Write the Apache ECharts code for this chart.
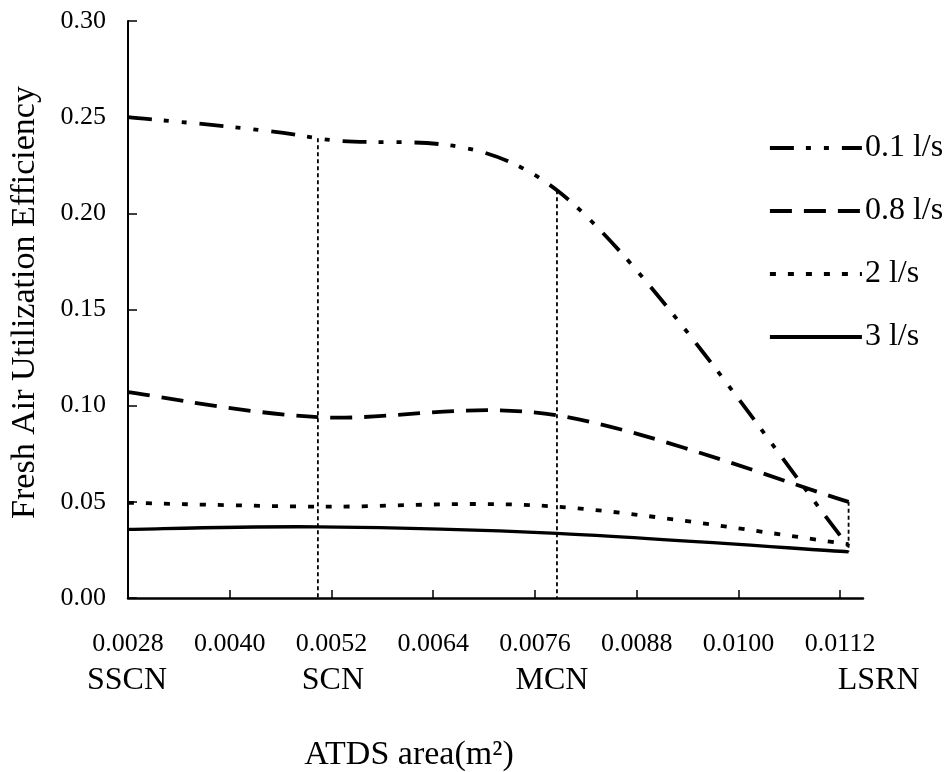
<!DOCTYPE html>
<html><head><meta charset="utf-8">
<script src="https://cdn.jsdelivr.net/npm/echarts@6/dist/echarts.min.js"></script>
<style>html,body{margin:0;padding:0;background:#fff}#c{width:951px;height:772px}</style>
</head><body><div id="c"></div>
<script>
// ---- data ----
const categories = ['SSCN', 'SCN', 'MCN', 'LSRN'];
const areas = [0.0028, 0.00504, 0.00786, 0.0113];
const seriesNames = ['0.1 l/s', '0.8 l/s', '2 l/s', '3 l/s'];
const eff01 = [0.250, 0.239, 0.212, 0.027];
const eff08 = [0.107, 0.094, 0.095, 0.050];
const eff2 = [0.0495, 0.0475, 0.0475, 0.028];
const eff3 = [0.0357, 0.037, 0.0336, 0.024];
const xTickLabels = [0.0028, 0.0040, 0.0052, 0.0064, 0.0076, 0.0088, 0.0100, 0.0112];
const yTickLabels = [0.00, 0.05, 0.10, 0.15, 0.20, 0.25, 0.30];
const dropIdx = [1, 2, 3];
const dropBottom = [0, 0, 0.024];

// ---- styling ----
const FONT = '"Liberation Serif", "Times New Roman", serif';
const allSeries = [eff01, eff08, eff2, eff3];
const dashes = [[24, 12, 5, 13, 5, 13], [22, 12], [6, 12], 'solid'];
const widths = [3.8, 3.8, 3.8, 3.4];
const catLabelDx = [-1, 15, -5, 30];
const K = 1 / 6; // spreadsheet-style smoothing tension

// smooth path (spreadsheet style Bezier) through pixel points
function smoothPath(pts) {
  const n = pts.length;
  let d = 'M' + pts[0][0] + ' ' + pts[0][1];
  for (let i = 0; i < n - 1; i++) {
    const p0 = pts[Math.max(i - 1, 0)], p1 = pts[i], p2 = pts[i + 1], p3 = pts[Math.min(i + 2, n - 1)];
    const c1x = p1[0] + (p2[0] - p0[0]) * K, c1y = p1[1] + (p2[1] - p0[1]) * K;
    const c2x = p2[0] - (p3[0] - p1[0]) * K, c2y = p2[1] - (p3[1] - p1[1]) * K;
    d += ' C' + c1x + ' ' + c1y + ' ' + c2x + ' ' + c2y + ' ' + p2[0] + ' ' + p2[1];
  }
  return d;
}

const chart = echarts.init(document.getElementById('c'), null, {renderer: 'canvas'});

// legend carriers (line series, no data drawn)
const legendSeries = seriesNames.map((name, s) => ({
  name: name,
  type: 'line',
  symbol: 'none',
  data: [],
  lineStyle: {color: '#000', width: widths[s], type: dashes[s]},
  itemStyle: {color: '#000'}
}));

// the curves, drawn through the axes with api.coord
const curveSeries = seriesNames.map((name, s) => ({
  name: name + ' curve',
  type: 'custom',
  coordinateSystem: 'cartesian2d',
  encode: {x: 0, y: 1},
  clip: false,
  silent: true,
  z: 3,
  data: areas.map((x, i) => [x, allSeries[s][i]]),
  renderItem: function (params, api) {
    if (params.dataIndex !== 0) return null;
    const pts = areas.map((x, i) => api.coord([x, allSeries[s][i]]));
    return {
      type: 'path',
      shape: {pathData: smoothPath(pts)},
      style: {
        fill: 'none',
        stroke: '#000',
        lineWidth: widths[s],
        lineDash: dashes[s] === 'solid' ? null : dashes[s],
        lineCap: 'butt',
        lineJoin: 'round'
      }
    };
  }
}));

const dropSeries = dropIdx.map((idx, k) => ({
  type: 'line',
  symbol: 'none',
  silent: true,
  z: 2,
  data: [[areas[idx], Math.max(...allSeries.map(a => a[idx]))], [areas[idx], dropBottom[k]]],
  lineStyle: {color: '#000', width: 1.8, type: [4, 3]}
}));

chart.setOption({
  animation: false,
  backgroundColor: '#fff',
  textStyle: {fontFamily: FONT, color: '#000'},
  grid: {left: 128, right: 88, top: 21, bottom: 174, containLabel: false, outerBoundsMode: 'none'},
  legend: {
    data: seriesNames,
    orient: 'vertical',
    left: 768,
    top: 132,
    padding: 0,
    itemWidth: 92,
    itemHeight: 14,
    itemGap: 31,
    itemStyle: {opacity: 0},
    lineStyle: {width: 3.8, opacity: 1},
    textStyle: {fontFamily: FONT, fontSize: 32, color: '#000', lineHeight: 32, padding: [0, 0, 0, -2]}
  },
  xAxis: {
    type: 'value',
    min: 0.0028,
    max: 0.01147,
    name: 'ATDS area(m²)',
    nameLocation: 'middle',
    nameGap: 140,
    nameTextStyle: {fontFamily: FONT, fontSize: 34, color: '#000', padding: [0, 173, 0, 0]},
    axisLine: {show: true, onZero: false, lineStyle: {color: '#000', width: 2.5}},
    axisTick: {show: true, inside: true, length: 8, lineStyle: {color: '#000', width: 1.5},
      customValues: xTickLabels.slice(1)},
    axisLabel: {show: true, margin: 33, fontFamily: FONT, fontSize: 26, color: '#000',
      customValues: xTickLabels, formatter: v => v.toFixed(4)},
    splitLine: {show: false}
  },
  yAxis: {
    type: 'value',
    min: 0,
    max: 0.3,
    interval: 0.05,
    name: 'Fresh Air Utilization Efficiency',
    nameLocation: 'middle',
    nameGap: 86,
    nameTextStyle: {fontFamily: FONT, fontSize: 34, color: '#000', padding: [0, 0, 0, 14]},
    axisLine: {show: true, lineStyle: {color: '#000', width: 2}},
    axisTick: {show: true, inside: true, length: 9, lineStyle: {color: '#000', width: 1.5}},
    axisLabel: {margin: 22, fontFamily: FONT, fontSize: 26, color: '#000',
      customValues: yTickLabels, formatter: v => v.toFixed(2)},
    splitLine: {show: false}
  },
  series: legendSeries.concat(curveSeries, dropSeries)
});

// category names under the numeric tick labels
const y0 = chart.convertToPixel({yAxisIndex: 0}, 0);
chart.setOption({
  graphic: categories.map((c, i) => ({
    type: 'text',
    x: chart.convertToPixel({xAxisIndex: 0}, areas[i]) + catLabelDx[i],
    y: y0 + 83,
    style: {text: c, font: '32px ' + FONT, fill: '#000', align: 'center', verticalAlign: 'middle'}
  }))
});
</script></body></html>
